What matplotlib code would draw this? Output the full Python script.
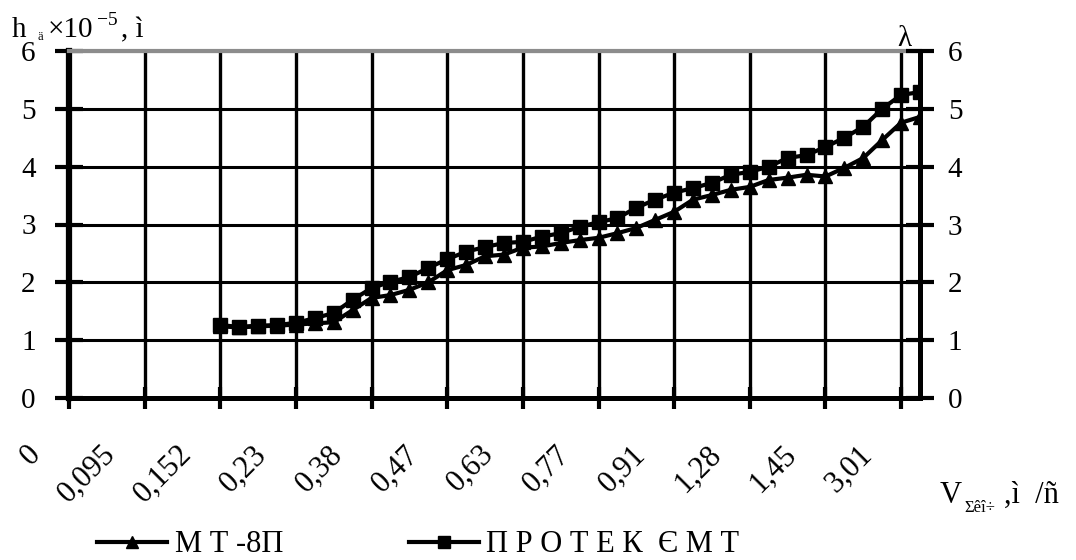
import numpy as np
import matplotlib
matplotlib.use("Agg")
import matplotlib.pyplot as plt
from matplotlib.transforms import ScaledTranslation
from matplotlib.lines import Line2D

plt.rcParams['font.family'] = ['Liberation Serif', 'DejaVu Serif']

# Подписи по оси X (каждая 4-я категория из 46)
x_labels = ['0', '0,095', '0,152', '0,23', '0,38', '0,47', '0,63',
            '0,77', '0,91', '1,28', '1,45', '3,01']
n_cat = 46
label_step = 4
first_cat = 8   # данные начинаются с категории "0,23"

# МТ-8П (треугольники)
mt8p = [1.24, 1.22, 1.24, 1.25, 1.27, 1.29, 1.31, 1.52, 1.73, 1.78,
        1.87, 2.00, 2.21, 2.30, 2.45, 2.48, 2.60, 2.62, 2.68, 2.73,
        2.77, 2.85, 2.94, 3.08, 3.22, 3.43, 3.51, 3.60, 3.65, 3.77,
        3.81, 3.86, 3.83, 3.98, 4.15, 4.46, 4.76, 4.86]
# ПРОТЕК ЄМТ (квадраты)
protek = [1.26, 1.23, 1.25, 1.26, 1.30, 1.38, 1.47, 1.70, 1.90, 2.01,
          2.09, 2.25, 2.40, 2.53, 2.61, 2.68, 2.70, 2.79, 2.85, 2.96,
          3.04, 3.11, 3.29, 3.43, 3.55, 3.63, 3.72, 3.86, 3.91, 4.00,
          4.15, 4.20, 4.34, 4.50, 4.69, 5.00, 5.24, 5.29]

W, H = 1076, 560
fig = plt.figure(figsize=(W / 100, H / 100), dpi=100)
ax = fig.add_axes([69 / W, 1 - 398 / H, (920 - 69) / W, (398 - 51) / H])

x = np.arange(first_cat, first_cat + len(mt8p))
ax.plot(x, mt8p, color='black', lw=3, marker='^', ms=10, zorder=3)
ax.plot(x, protek, color='black', lw=3, marker='s', ms=10, zorder=3)

ax.set_xlim(0, n_cat - 1)
ax.set_ylim(0, 6)
ticks = np.arange(0, n_cat - 1, label_step)
ax.set_xticks(ticks)
ax.set_xticklabels([])
ax.set_yticks(range(7))
ax.set_axisbelow(True)
ax.grid(axis='x', color='black', lw=2.4)
ax.grid(axis='y', color='black', lw=2.2)

ax.tick_params(axis='x', direction='inout', length=16, width=3)
ax.tick_params(axis='y', direction='inout', length=20, width=3,
               labelsize=21, pad=14)

ax.spines['left'].set_linewidth(4.5)
ax.spines['bottom'].set_linewidth(3.6)
ax.spines['top'].set_color('#8c8c8c')
ax.spines['top'].set_linewidth(3)
ax.spines['right'].set_visible(False)

ax2 = ax.twinx()
ax2.set_ylim(0, 6)
ax2.set_yticks(range(7))
ax2.tick_params(axis='y', direction='inout', length=20, width=3,
                labelsize=21, pad=10)
ax2.spines['right'].set_linewidth(3.6)
for s in ['left', 'top', 'bottom']:
    ax2.spines[s].set_visible(False)

# повернутые подписи оси X
off = ScaledTranslation(-33 / 100, -52 / 100, fig.dpi_scale_trans)
for t, lab in zip(ticks, x_labels):
    ax.text(t, 0, lab, transform=ax.get_xaxis_transform() + off,
            rotation=45, rotation_mode='anchor', ha='right', va='center',
            fontsize=22)

# подпись оси Y слева
def ftxt(px, py, s, size):
    fig.text(px / W, 1 - py / H, s, fontsize=size, va='baseline', ha='left')

ftxt(12, 37, 'h', 21)
ftxt(37, 40, 'ä', 9)
ftxt(48, 37, '×10', 21)
ftxt(97, 25, '−5', 14)
ftxt(121, 37, ', ì', 21)
# правая ось
ftxt(897, 46, 'λ', 21)
# подпись оси X
ftxt(940, 503, 'V', 22)
ftxt(964, 512, 'Σêî÷', 12)
ftxt(1004, 503, ',ì  /ñ', 22)

handles = [Line2D([], [], color='black', lw=3, marker='^', ms=9),
           Line2D([], [], color='black', lw=3, marker='s', ms=9)]
fig.legend(handles, ['М Т -8П', 'П Р О Т Е К  Є М Т'],
           loc='center left', bbox_to_anchor=(97 / W, 1 - 545 / H),
           ncol=2, frameon=False, fontsize=22, handlelength=2.3,
           handletextpad=0.25, columnspacing=4.1, borderpad=0,
           borderaxespad=0)

fig.savefig('out.png', dpi=100)
